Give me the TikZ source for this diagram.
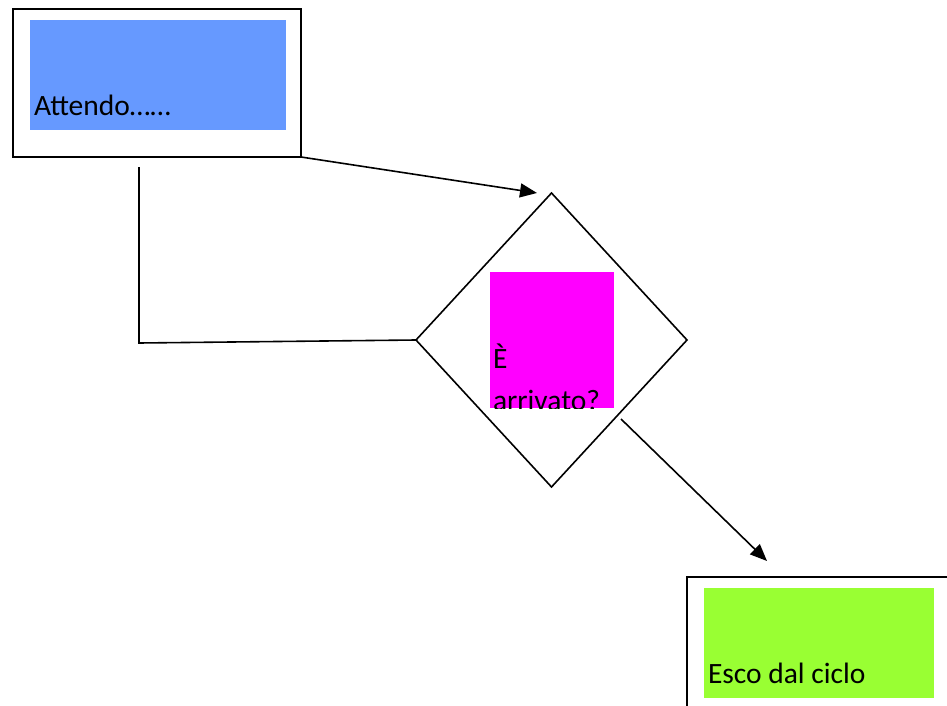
\documentclass[tikz,border=0pt]{standalone}
\usepackage{fontspec}
\setmainfont{Carlito}
\usetikzlibrary{shapes.geometric,arrows.meta}
\definecolor{boxblue}{HTML}{6699FF}
\definecolor{boxmagenta}{HTML}{FF00FF}
\definecolor{boxgreen}{HTML}{99FF33}
\tikzset{
  frame/.style={draw=black, line width=1.6pt, fill=white, inner sep=0pt, outer sep=0pt, anchor=north west},
  panel/.style={inner sep=0pt, outer sep=0pt, anchor=north west},
  label/.style={inner sep=0pt, outer sep=0pt, anchor=base west, font=\fontsize{29.5}{40}\selectfont},
  link/.style={draw=black, line width=1.6pt},
  flow/.style={link, -{Triangle[length=17pt,width=14pt]}},
}
\begin{document}
\begin{tikzpicture}[x=1pt,y=-1pt]
\useasboundingbox (0,0) rectangle (947,706);
\clip (0,0) rectangle (947,706);

% start block
\node[frame, minimum width=288pt, minimum height=148pt] (start) at (13,9) {};
\node[panel, fill=boxblue, minimum width=256pt, minimum height=110pt] (startpanel) at (30,20) {};
\node[label] (starttext) at (34,116) {Attendo……};

% decision
\node[draw=black, line width=1.6pt, diamond, minimum width=271pt, minimum height=294pt,
      inner sep=0pt, outer sep=0pt] (check) at (551.5,340) {};
\node[panel, fill=boxmagenta, minimum width=124pt, minimum height=136pt] (checkpanel) at (490,272) {};
\begin{scope}
  \clip (490,272) rectangle (614,408);
  \node[label] (checktext1) at (493,368) {È};
  \node[label] (checktext2) at (493,410) {arrivato?};
\end{scope}

% exit block
\node[frame, minimum width=300pt, minimum height=160pt] (exit) at (687,577) {};
\node[panel, fill=boxgreen, minimum width=230pt, minimum height=110pt] (exitpanel) at (704,588) {};
\node[label] (exittext) at (708,683) {Esco dal ciclo};

% connectors
\coordinate (intip) at (537,193);
\coordinate (loopstart) at (139,167);
\coordinate (loopcorner) at (139,343);
\coordinate (outstart) at (621,419);
\coordinate (outtip) at (767,561);

\draw[flow] (start.south east) -- (intip);
\draw[link] (loopstart) -- (loopcorner) -- (check.west);
\draw[flow] (outstart) -- (outtip);
\end{tikzpicture}
\end{document}
